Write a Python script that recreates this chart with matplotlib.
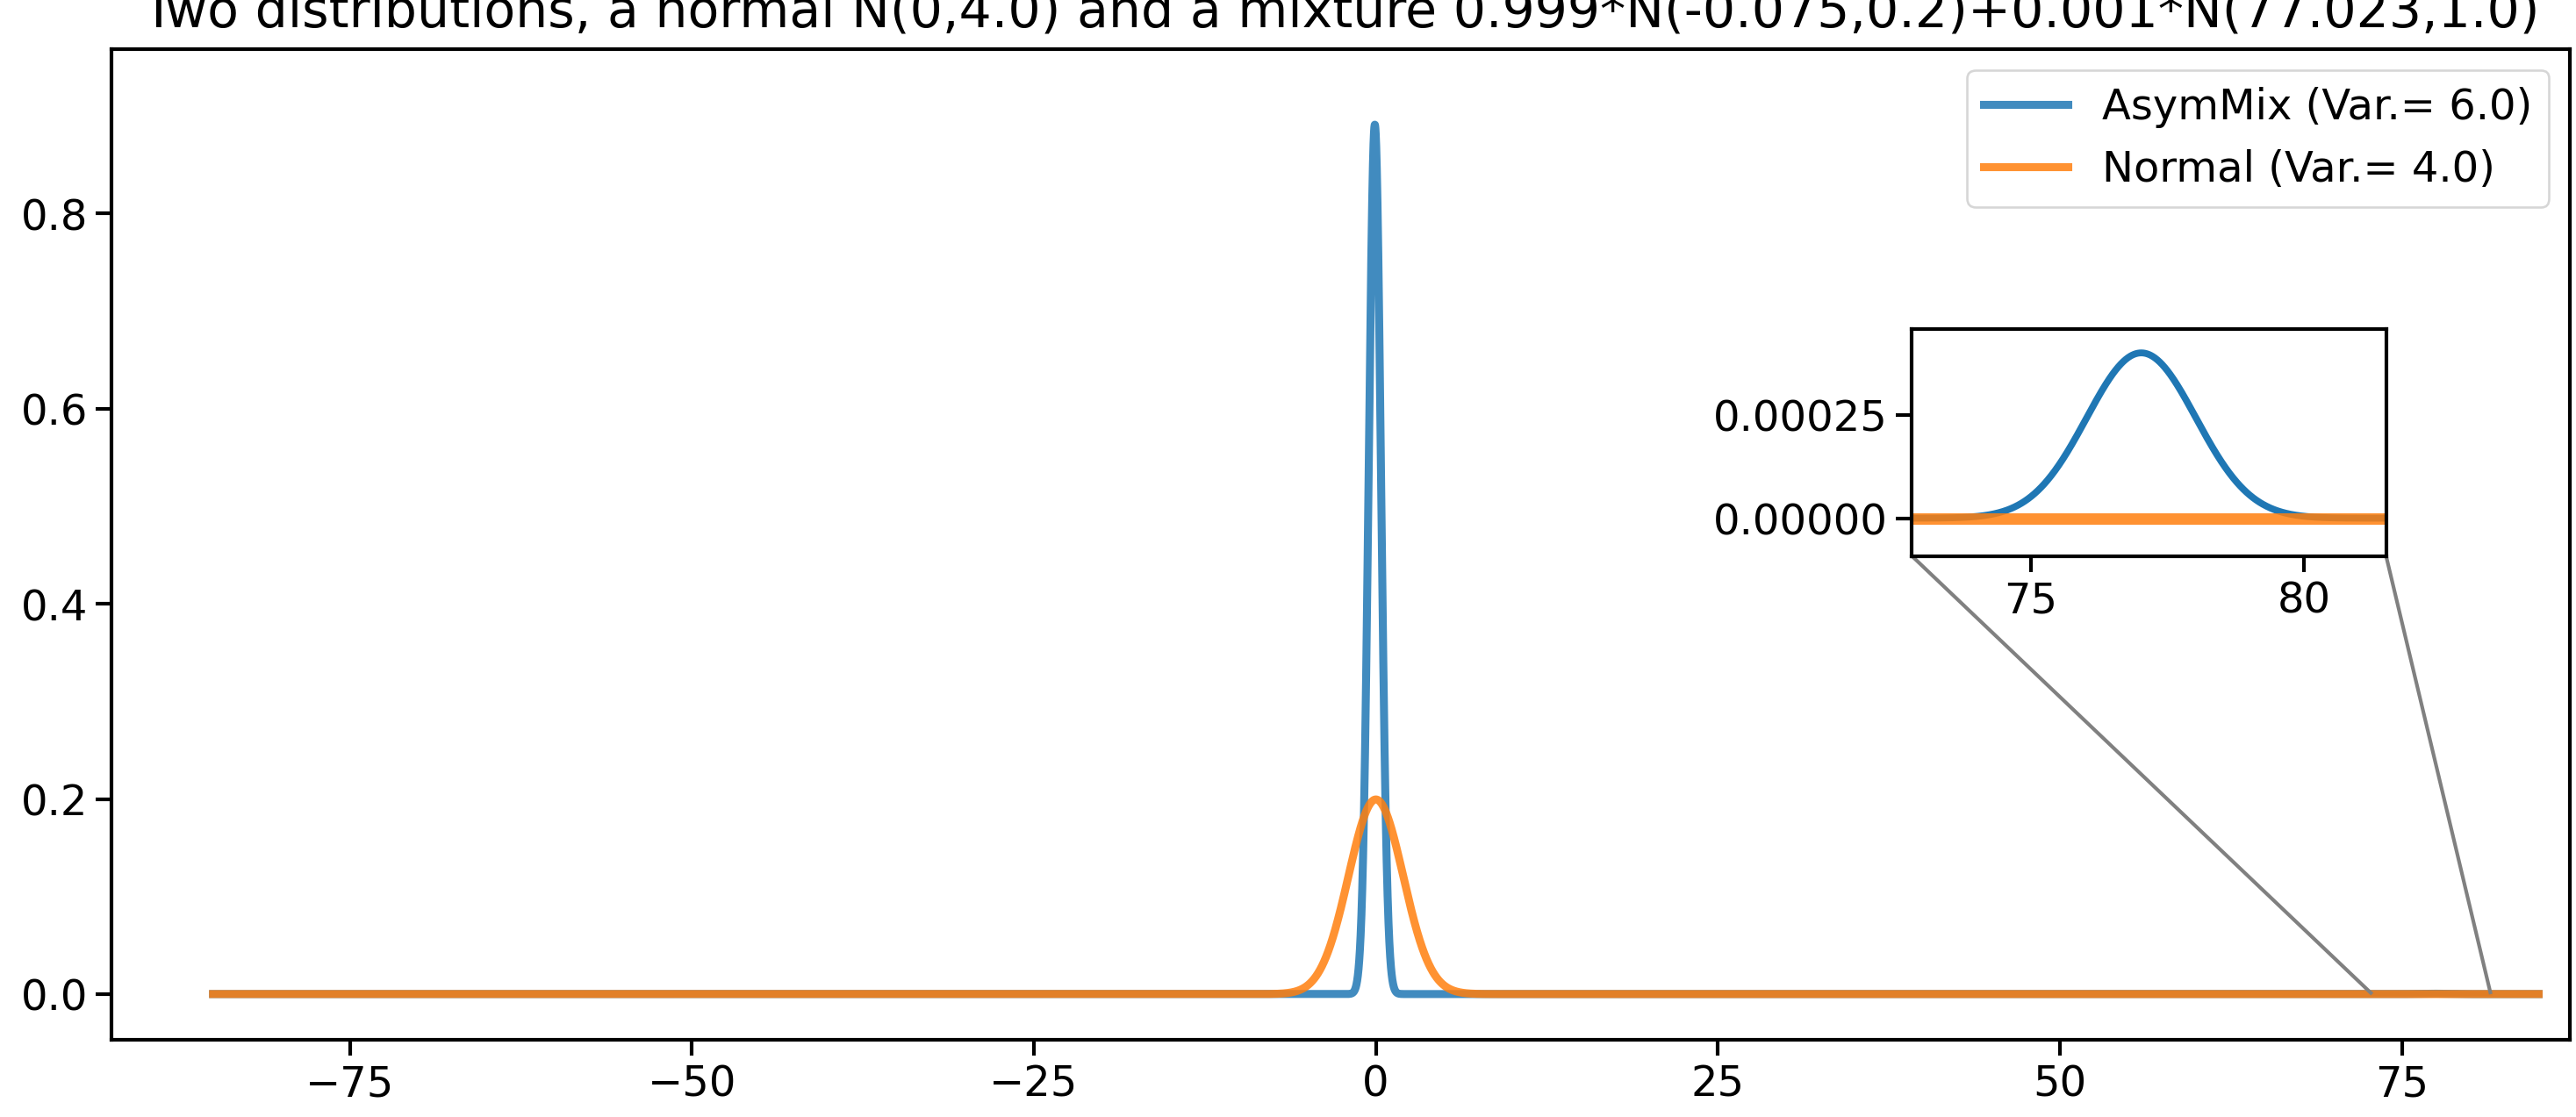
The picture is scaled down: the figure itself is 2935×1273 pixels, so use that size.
import numpy as np
import matplotlib
matplotlib.use("Agg")
import matplotlib.pyplot as plt
from mpl_toolkits.axes_grid1.inset_locator import mark_inset

# distribution parameters (mean, variance, weight)
mix_means = [-0.075, 77.023]
mix_vars = [0.2, 1.0]
mix_weights = [0.999, 0.001]
norm_mean = 0.0
norm_var = 4.0
labels = ["AsymMix (Var.= 6.0)", "Normal (Var.= 4.0)"]
x_range = [-85, 85]
x_ticks = [-75, -50, -25, 0, 25, 50, 75]

def pdf(x, m, v):
    return np.exp(-(x - m) ** 2 / (2 * v)) / np.sqrt(2 * np.pi * v)

x = np.linspace(x_range[0], x_range[1], 20001)
y_mix = sum(w * pdf(x, m, v) for m, v, w in zip(mix_means, mix_vars, mix_weights))
y_norm = pdf(x, norm_mean, norm_var)

plt.rcParams["axes.linewidth"] = 1.6
plt.rcParams["xtick.major.width"] = 1.6
plt.rcParams["ytick.major.width"] = 1.6
plt.rcParams["xtick.major.size"] = 7
plt.rcParams["ytick.major.size"] = 7

fig = plt.figure(figsize=(15.7, 6.81), dpi=187)
ax = fig.add_axes([0.0434, 0.069, 0.954, 0.887])
ax.plot(x, y_mix, color="#1f77b4", label=labels[0], lw=3.5, alpha=0.85)
ax.plot(x, y_norm, color="#ff7f0e", label=labels[1], lw=3.5, alpha=0.85)
ax.set_xlim(-92.4, 87.3)
ax.set_ylim(-0.047, 0.969)
ax.set_xticks(x_ticks)
ax.set_title("Two distributions, a normal N(0,4.0) and a mixture 0.999*N(-0.075,0.2)+0.001*N(77.023,1.0)",
             fontsize=22.5, pad=10)
ax.legend(loc="upper right", fontsize=18.5)
ax.tick_params(labelsize=18.5)

axins = fig.add_axes([0.742, 0.502, 0.184, 0.203])
axins.plot(x, y_mix, color="#1f77b4", lw=3)
axins.plot(x, y_norm, color="#ff7f0e", lw=5, alpha=0.85)
axins.set_xlim(72.83, 81.5)
axins.set_ylim(-0.0000913, 0.000456)
axins.set_yticks([0, 0.00025])
axins.set_yticklabels(["0.00000", "0.00025"])
axins.set_xticks([75, 80])
axins.tick_params(labelsize=18.5)
mark_inset(ax, axins, loc1=3, loc2=4, fc="none", ec="0.5", lw=1.6)

fig.savefig("out.png", dpi=187)
